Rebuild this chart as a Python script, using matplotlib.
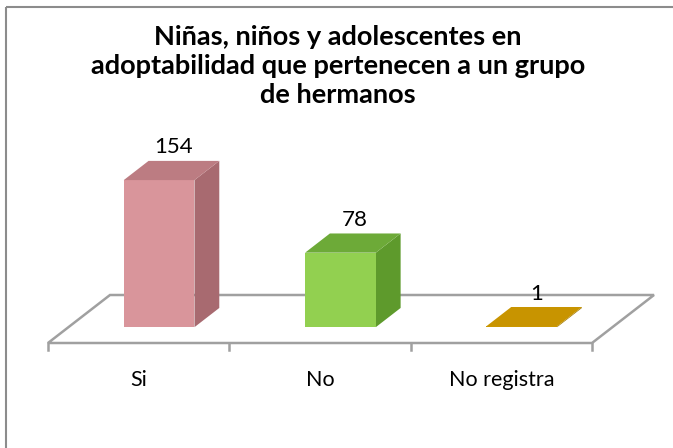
import matplotlib
matplotlib.use("Agg")
import matplotlib.pyplot as plt
from matplotlib.patches import Polygon, Rectangle

categories = ["Si", "No", "No registra"]
values = [154, 78, 1]
labels = ["154", "78", "1"]
front_colors = ["#D9959B", "#92D050", "#CC9900"]
side_colors = ["#A86A70", "#5E9A2C", "#A07800"]
top_colors = ["#BC7C82", "#6DAA38", "#C89400"]
title = "Niñas, niños y adolescentes en\nadoptabilidad que pertenecen a un grupo\nde hermanos"

plt.rcParams['font.family'] = ['Lato', 'DejaVu Sans']

# pseudo 3d layout (screen pixels)
x_left, x_right = 48, 592
y_front = 343
deep_dx, deep_dy = 62, 48
px_per_unit = 0.955
bar_w = 0.39
d0, d1 = 0.33, 0.73
cat_w = (x_right - x_left) / len(categories)


def proj(c, v, d):
  # c: category position, v: value, d: depth fraction 0..1
  return (x_left + c * cat_w + d * deep_dx, y_front - v * px_per_unit - d * deep_dy)


fig = plt.figure(figsize=(6.73, 4.48), dpi=100)
ax = fig.add_axes([0, 0, 1, 1])
ax.set_xlim(0, 673)
ax.set_ylim(448, 0)
ax.axis('off')

# outer border
ax.add_patch(Rectangle((6, 7), 700, 500, fill=False, ec="#8C8C8C", lw=1.5))

# floor
floor = [proj(0, 0, 0), proj(3, 0, 0), proj(3, 0, 1), proj(0, 0, 1)]
ax.add_patch(Polygon(floor, closed=True, fc="white", ec="#A0A0A0", lw=1.8))
for i in range(len(categories) + 1):
  x, y = proj(i, 0, 0)
  ax.plot([x, x], [y, y + 7], color="#A0A0A0", lw=1.8)

for i, v in enumerate(values):
  cl, cr = i + 0.5 - bar_w / 2, i + 0.5 + bar_w / 2
  front = [proj(cl, 0, d0), proj(cr, 0, d0), proj(cr, v, d0), proj(cl, v, d0)]
  side = [proj(cr, 0, d0), proj(cr, 0, d1), proj(cr, v, d1), proj(cr, v, d0)]
  top = [proj(cl, v, d0), proj(cr, v, d0), proj(cr, v, d1), proj(cl, v, d1)]
  ax.add_patch(Polygon(side, closed=True, fc=side_colors[i], ec="none"))
  ax.add_patch(Polygon(front, closed=True, fc=front_colors[i], ec="none"))
  ax.add_patch(Polygon(top, closed=True, fc=top_colors[i], ec="none"))
  lx, ly = proj(i + 0.5, v, (d0 + d1) / 2)
  ax.text(lx + 2, ly - 23, labels[i], ha="center", va="center", fontsize=16, color="black")
  cx, cy = proj(i + 0.5, 0, 0)
  ax.text(cx, cy + 37, categories[i], ha="center", va="center", fontsize=15.5, color="black")

ax.text(338, 66, title, ha="center", va="center", fontsize=19.5, fontweight="bold",
        linespacing=1.27)

fig.savefig("out.png", dpi=100)
